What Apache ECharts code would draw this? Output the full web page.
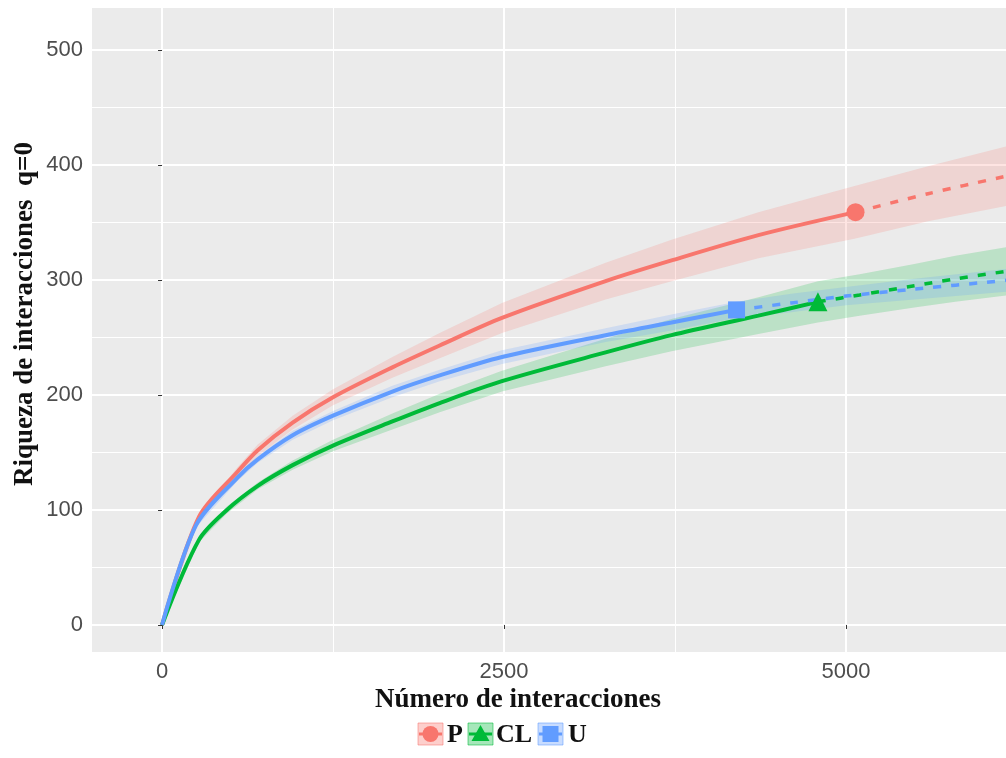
<!DOCTYPE html>
<html>
<head>
<meta charset="utf-8">
<script src="https://cdn.jsdelivr.net/npm/echarts@6/dist/echarts.min.js"></script>
<style>
  html, body { margin: 0; padding: 0; background: #ffffff; }
  #chart { width: 1006px; height: 758px; }
</style>
</head>
<body>
<div id="chart"></div>
<script>
// Groups, colours and observed sample sizes (number of interactions)
const groupNames = ['P', 'CL', 'U'];
const groupColors = ['#F8766D', '#00BA38', '#619CFF'];
const sampleSize = [5070, 4795, 4200];

// P: interaction richness (q = 0) with its confidence band
const pX  = [0, 270, 550, 700, 955, 1250, 1684, 2030, 2485, 3243, 3725, 4360, 5070, 5600, 6200];
const pY  = [0, 94, 133, 152, 176, 198, 224, 243, 267, 299, 317, 339, 359, 375, 391];
const pLo = [0, 92, 129, 147, 170, 191, 215, 232, 254, 283, 299, 319, 336, 351, 365];
const pHi = [0, 96, 137, 157, 182, 205, 233, 254, 280, 315, 335, 359, 382, 399, 417];

// CL
const clX  = [0, 270, 474, 700, 955, 1250, 1684, 2030, 2485, 3243, 3725, 4360, 4795, 5100, 5500, 5800, 6200];
const clY  = [0, 74, 100, 121, 139, 156, 177, 193, 212, 237, 252, 269, 281, 287, 295, 301, 308];
const clLo = [0, 72, 97, 118, 135, 151, 170, 185, 203, 225, 238, 253, 263, 269, 276, 281, 287];
const clHi = [0, 76, 103, 124, 143, 161, 184, 201, 221, 249, 266, 285, 299, 305, 314, 321, 329];

// U
const uX  = [0, 250, 550, 700, 955, 1250, 1684, 2030, 2485, 3243, 3725, 4200, 4600, 5000, 5500, 6200];
const uY  = [0, 87, 128, 144, 165, 182, 203, 217, 233, 252, 263, 274, 280, 286, 292, 300];
const uLo = [0, 85, 125, 141, 161, 178, 198, 212, 227, 246, 256, 267, 272, 278, 283, 290];
const uHi = [0, 89, 131, 147, 169, 186, 208, 222, 239, 258, 270, 281, 288, 294, 301, 310];

// Axis ticks
const xTicks = [0, 2500, 5000];
const xMinorTicks = [-1250, 1250, 3750, 6250];
const yTicks = [0, 100, 200, 300, 400, 500];
const yMinorTicks = [50, 150, 250, 350, 450];

const xTitle = 'Número de interacciones';
const yTitle = 'Riqueza de interacciones  q=0';

const curves = [
  { x: pX, y: pY, lo: pLo, hi: pHi },
  { x: clX, y: clY, lo: clLo, hi: clHi },
  { x: uX, y: uY, lo: uLo, hi: uHi }
];
const markerSymbols = ['circle', 'triangle', 'rect'];
const markerSizes = [18, 19, 17];

const panelBg = '#EBEBEB';
const tickText = '#4D4D4D';
const sansFont = '"Liberation Sans", Arial, sans-serif';
const serifFont = '"Liberation Serif", "Times New Roman", serif';

function pairs(xs, ys, keep) {
  const out = [];
  for (let i = 0; i < xs.length; i++) if (keep(xs[i])) out.push([xs[i], ys[i]]);
  return out;
}

function hexToRgba(hex, a) {
  const n = parseInt(hex.slice(1), 16);
  return 'rgba(' + ((n >> 16) & 255) + ',' + ((n >> 8) & 255) + ',' + (n & 255) + ',' + a + ')';
}

const series = [];

// Confidence bands drawn as polygons through the cartesian scales
curves.forEach((c, k) => {
  series.push({
    type: 'custom',
    name: groupNames[k] + ' band',
    coordinateSystem: 'cartesian2d',
    clip: true,
    silent: true,
    z: 1,
    data: [[c.x[0], c.y[0]]],
    renderItem: function (params, api) {
      const pts = [];
      for (let i = 0; i < c.x.length; i++) pts.push(api.coord([c.x[i], c.hi[i]]));
      for (let i = c.x.length - 1; i >= 0; i--) pts.push(api.coord([c.x[i], c.lo[i]]));
      return {
        type: 'polygon',
        shape: { points: pts },
        style: { fill: hexToRgba(groupColors[k], 0.2), stroke: null }
      };
    }
  });
});

// Interpolated (solid) and extrapolated (dashed) curves, plus the observed point
curves.forEach((c, k) => {
  const n = sampleSize[k];
  series.push({
    type: 'line',
    name: groupNames[k],
    data: pairs(c.x, c.y, v => v <= n),
    showSymbol: false,
    smooth: 0.3,
    clip: true,
    z: 3,
    lineStyle: { color: groupColors[k], width: 4 }
  });
  series.push({
    type: 'line',
    name: groupNames[k] + ' extrapolación',
    data: pairs(c.x, c.y, v => v >= n),
    showSymbol: false,
    smooth: 0.3,
    clip: true,
    z: 3,
    lineStyle: { color: groupColors[k], width: 3.5, type: [8, 10] }
  });
  const idx = c.x.indexOf(n);
  series.push({
    type: 'scatter',
    name: groupNames[k] + ' observado',
    data: [[c.x[idx], c.y[idx]]],
    symbol: markerSymbols[k],
    symbolSize: markerSizes[k],
    z: 4,
    itemStyle: { color: groupColors[k], opacity: 1 }
  });
});

// Legend keys: band swatch, line and marker, followed by the group label
const legendKeys = [
  { left: 418, textX: 447 },
  { left: 468, textX: 496 },
  { left: 538, textX: 568 }
];
const legendGraphics = [];
legendKeys.forEach((lk, k) => {
  const col = groupColors[k];
  const cx = lk.left + 12.5, cy = 734;
  legendGraphics.push({
    type: 'rect',
    shape: { x: lk.left, y: 723, width: 25, height: 22 },
    style: { fill: hexToRgba(col, 0.35), stroke: hexToRgba(col, 0.55), lineWidth: 1 }
  });
  legendGraphics.push({
    type: 'line',
    shape: { x1: lk.left + 1, y1: cy, x2: lk.left + 24, y2: cy },
    style: { stroke: col, lineWidth: 3 }
  });
  if (k === 0) {
    legendGraphics.push({ type: 'circle', shape: { cx: cx, cy: cy, r: 8 }, style: { fill: col } });
  } else if (k === 1) {
    legendGraphics.push({
      type: 'polygon',
      shape: { points: [[cx, cy - 9], [cx - 9, cy + 7], [cx + 9, cy + 7]] },
      style: { fill: col }
    });
  } else {
    legendGraphics.push({ type: 'rect', shape: { x: cx - 8, y: cy - 8, width: 16, height: 16 }, style: { fill: col } });
  }
  legendGraphics.push({
    type: 'text',
    x: lk.textX, y: 735,
    style: {
      text: groupNames[k], font: 'bold 26px ' + serifFont, fill: '#111111',
      align: 'left', verticalAlign: 'middle', textAlign: 'left', textVerticalAlign: 'middle'
    }
  });
});

const plainNumber = v => String(v);

const baseAxisX = {
  type: 'value', min: -512, max: 6170,
  axisLine: { show: false }
};
const baseAxisY = {
  type: 'value', min: -23.5, max: 536.5,
  axisLine: { show: false }
};

const option = {
  animation: false,
  backgroundColor: '#ffffff',
  grid: {
    left: 92, top: 8, right: 0, bottom: 106,
    show: true, backgroundColor: panelBg, borderWidth: 0,
    containLabel: false
  },
  xAxis: [
    Object.assign({}, baseAxisX, {
      axisTick: { show: true, length: 4, lineStyle: { color: '#333333', width: 1 }, customValues: xTicks },
      axisLabel: { customValues: xTicks, formatter: plainNumber, color: tickText, fontSize: 22, fontFamily: sansFont, margin: 9 },
      splitLine: { show: true, lineStyle: { color: '#ffffff', width: 2 } }
    }),
    Object.assign({}, baseAxisX, {
      axisTick: { show: false, customValues: xMinorTicks },
      axisLabel: { show: false, customValues: xMinorTicks },
      splitLine: { show: true, lineStyle: { color: '#ffffff', width: 1 } }
    })
  ],
  yAxis: [
    Object.assign({}, baseAxisY, {
      axisTick: { show: true, length: 4, lineStyle: { color: '#333333', width: 1 }, customValues: yTicks },
      axisLabel: { customValues: yTicks, formatter: plainNumber, color: tickText, fontSize: 22, fontFamily: sansFont, margin: 9 },
      splitLine: { show: true, lineStyle: { color: '#ffffff', width: 2 } }
    }),
    Object.assign({}, baseAxisY, {
      position: 'left',
      axisTick: { show: false, customValues: yMinorTicks },
      axisLabel: { show: false, customValues: yMinorTicks },
      splitLine: { show: true, lineStyle: { color: '#ffffff', width: 1 } }
    })
  ],
  graphic: [
    {
      type: 'text',
      x: 518, y: 700,
      style: {
        text: xTitle, font: 'bold 27px ' + serifFont, fill: '#111111',
        align: 'center', verticalAlign: 'middle', textAlign: 'center', textVerticalAlign: 'middle'
      }
    },
    {
      type: 'text',
      x: 25, y: 314,
      rotation: Math.PI / 2,
      style: {
        text: yTitle, font: 'bold 27px ' + serifFont, fill: '#111111',
        align: 'center', verticalAlign: 'middle', textAlign: 'center', textVerticalAlign: 'middle'
      }
    }
  ].concat(legendGraphics),
  series: series
};

const chart = echarts.init(document.getElementById('chart'), null, { renderer: 'canvas' });
chart.setOption(option);
</script>
</body>
</html>
